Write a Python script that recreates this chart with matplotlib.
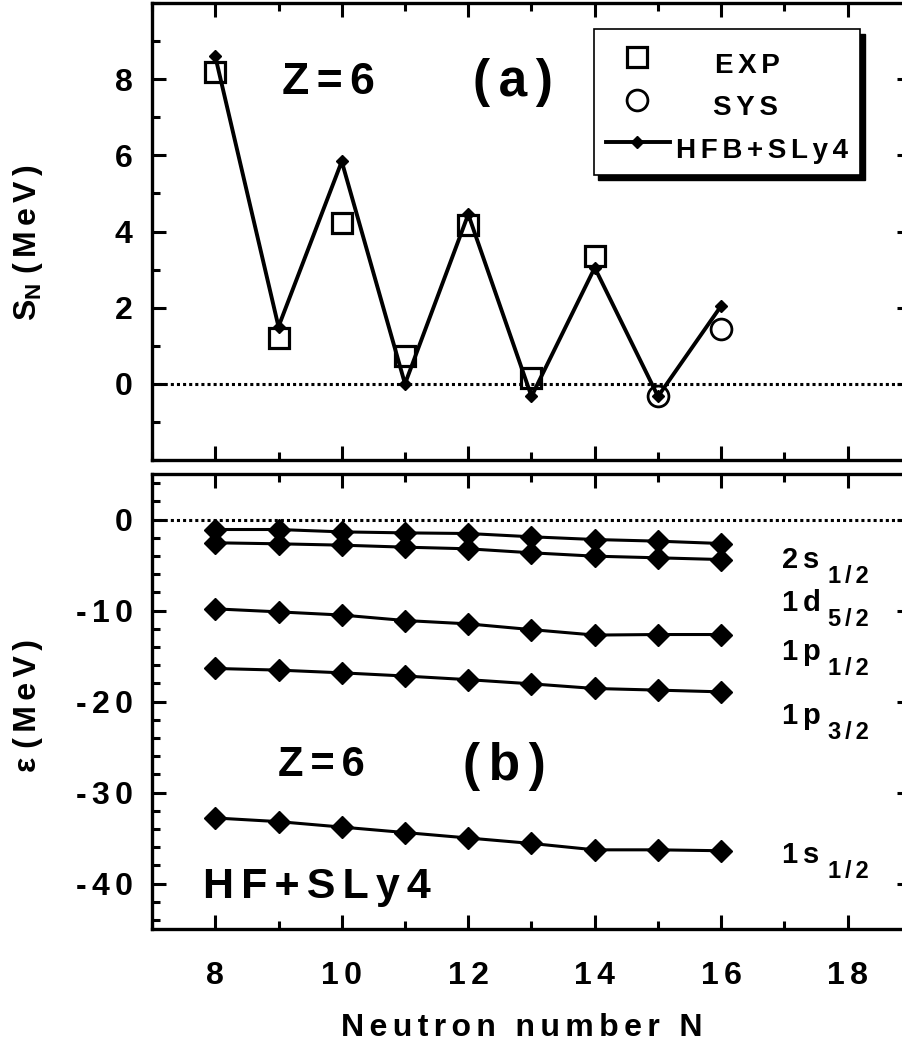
import matplotlib
matplotlib.use('Agg')
import matplotlib.pyplot as plt
from matplotlib.patches import Rectangle
from matplotlib.ticker import MultipleLocator

# neutron separation energies, Z=6
N = [8, 9, 10, 11, 12, 13, 14, 15, 16]
hfb_sn = [8.6, 1.5, 5.84, 0.0, 4.45, -0.33, 3.05, -0.33, 2.05]
exp_n = [8, 9, 10, 11, 12, 13, 14]
exp_sn = [8.18, 1.21, 4.23, 0.72, 4.18, 0.15, 3.35]
sys_n = [15, 16]
sys_sn = [-0.33, 1.45]

# single particle levels (HF+SLy4)
e_2s12 = [-1.10, -1.10, -1.36, -1.47, -1.54, -1.90, -2.20, -2.38, -2.64]
e_1d52 = [-2.56, -2.67, -2.82, -3.04, -3.22, -3.66, -4.03, -4.21, -4.40]
e_1p12 = [-9.82, -10.15, -10.5, -11.1, -11.47, -12.1, -12.7, -12.64, -12.64]
e_1p32 = [-16.37, -16.55, -16.85, -17.2, -17.6, -18.06, -18.57, -18.75, -18.94]
e_1s12 = [-32.8, -33.2, -33.8, -34.4, -35.0, -35.6, -36.3, -36.3, -36.4]
levels = [e_2s12, e_1d52, e_1p12, e_1p32, e_1s12]
level_names = ['2s', '1d', '1p', '1p', '1s']
level_subs = ['1/2', '5/2', '1/2', '3/2', '1/2']
level_label_y = [-5.3, -10.1, -15.4, -22.5, -37.7]

sn_ticks = [0, 2, 4, 6, 8]
e_ticks = [0, -10, -20, -30, -40]
n_ticks = [8, 10, 12, 14, 16, 18]

plt.rcParams['font.family'] = ['Liberation Sans', 'DejaVu Sans']
plt.rcParams['font.weight'] = 'bold'
plt.rcParams['axes.unicode_minus'] = False
plt.rcParams['mathtext.fontset'] = 'custom'
plt.rcParams['mathtext.rm'] = 'Liberation Sans:bold'
plt.rcParams['mathtext.it'] = 'Liberation Sans:bold'
plt.rcParams['mathtext.bf'] = 'Liberation Sans:bold'
plt.rcParams['mathtext.default'] = 'regular'
FAM = ['Liberation Sans', 'DejaVu Sans']
BOLD = dict(family=FAM, fontweight='bold')


def sp(s):
    # Origin-style letter spacing (six-per-em spaces)
    return '\u2006'.join(s)


def style_axes(ax):
    for s in ax.spines.values():
        s.set_linewidth(2.4)
    ax.tick_params(which='both', direction='in', top=True, right=True,
                   width=2.2, labelsize=23, pad=14)
    ax.tick_params(which='major', length=10)
    ax.tick_params(which='minor', length=6)
    ax.set_xlim(7, 19)
    ax.xaxis.set_minor_locator(MultipleLocator(1))
    ax.set_xticks(n_ticks)
    ax.set_xticklabels([sp(str(v)) for v in n_ticks], **BOLD)
    ax.axhline(0, color='k', lw=2.2, ls=(0, (1, 1)), zorder=1)


fig = plt.figure(figsize=(9.03, 10.48), dpi=100)
ax1 = fig.add_axes([152 / 903, 1 - 460 / 1048, 759 / 903, 457 / 1048])
ax2 = fig.add_axes([152 / 903, 1 - 929 / 1048, 759 / 903, 455 / 1048])

# (a) separation energies
style_axes(ax1)
ax1.plot(N, hfb_sn, color='k', lw=2.8, marker='D', ms=6.5, zorder=3)
ax1.plot(exp_n, exp_sn, ls='none', marker='s', ms=14, mfc='none',
         mec='k', mew=2.3, zorder=4)
ax1.plot(sys_n, sys_sn, ls='none', marker='o', ms=15, mfc='none',
         mec='k', mew=2.0, zorder=4)
ax1.set_ylim(-2, 10)
ax1.yaxis.set_minor_locator(MultipleLocator(1))
ax1.set_yticks(sn_ticks)
ax1.set_yticklabels([sp(str(v)) for v in sn_ticks], **BOLD)
ax1.tick_params(labelbottom=False)
ax1.text(9.06, 7.6, sp('Z=6'), fontsize=32, ha='left', va='baseline', **BOLD)
ax1.text(12.07, 7.55, sp('(a)'), fontsize=37, ha='left', va='baseline',
         **BOLD)

# legend box drawn by hand (Origin style, with shadow)
tr = ax1.transAxes
ax1.add_patch(Rectangle((0.588, 0.613), 0.351, 0.319, transform=tr,
                        facecolor='k', edgecolor='k', zorder=5))
ax1.add_patch(Rectangle((0.582, 0.624), 0.351, 0.319, transform=tr,
                        facecolor='white', edgecolor='k', lw=1.2, zorder=6))
ax1.plot([0.639], [0.881], transform=tr, marker='s', ms=14, mfc='none',
         mec='k', mew=2.3, zorder=7)
ax1.plot([0.639], [0.788], transform=tr, marker='o', ms=15, mfc='none',
         mec='k', mew=2.0, zorder=7)
ax1.plot([0.598, 0.682], [0.696, 0.696], transform=tr, color='k', lw=2.8,
         zorder=7)
ax1.plot([0.639], [0.696], transform=tr, marker='D', ms=6.5, color='k',
         zorder=7)
ax1.text(0.742, 0.847, sp('EXP'), transform=tr, fontsize=20, zorder=8, **BOLD)
ax1.text(0.739, 0.755, sp('SYS'), transform=tr, fontsize=20, zorder=8, **BOLD)
ax1.text(0.690, 0.661, sp('HFB+SLy4'), transform=tr, fontsize=20, zorder=8,
         **BOLD)

# (b) single particle levels
style_axes(ax2)
for e in levels:
    ax2.plot(N, e, color='k', lw=2.2, marker='D', ms=11, zorder=3)
for name, sub, y in zip(level_names, level_subs, level_label_y):
    ax2.text(16.96, y, sp(name), fontsize=21, ha='left', va='baseline',
             **BOLD)
    ax2.annotate(sp(sub), xy=(16.96, y), xytext=(33, -10.8),
                 textcoords='offset points', fontsize=17, ha='left',
                 va='baseline', **BOLD)
ax2.set_ylim(-45, 5)
ax2.yaxis.set_minor_locator(MultipleLocator(2))
ax2.set_yticks(e_ticks)
ax2.set_yticklabels([sp(str(v)) for v in e_ticks], **BOLD)
ax2.tick_params(axis='x', pad=23)
ax2.text(8.99, -28.2, sp('Z=6'), fontsize=30, ha='left', va='baseline',
         **BOLD)
ax2.text(11.92, -28.6, sp('(b)'), fontsize=37, ha='left', va='baseline',
         **BOLD)
ax2.text(7.81, -41.6, sp('HF+SLy4'), fontsize=31, ha='left', va='baseline',
         **BOLD)

fig.text(522 / 903, 1 - 1028 / 1048, sp('Neutron number N'), fontsize=23,
         ha='center', va='center', **BOLD)
fig.text(28 / 903, 1 - 243 / 1048, sp('S') + '$_N$' + ' ' + sp('(MeV)'),
         fontsize=23, rotation=90, ha='center', va='center', **BOLD)
fig.text(28 / 903, 1 - 706 / 1048, 'ε ' + sp('(MeV)'), fontsize=23,
         rotation=90, ha='center', va='center', **BOLD)

fig.savefig('out.png', dpi=100)
